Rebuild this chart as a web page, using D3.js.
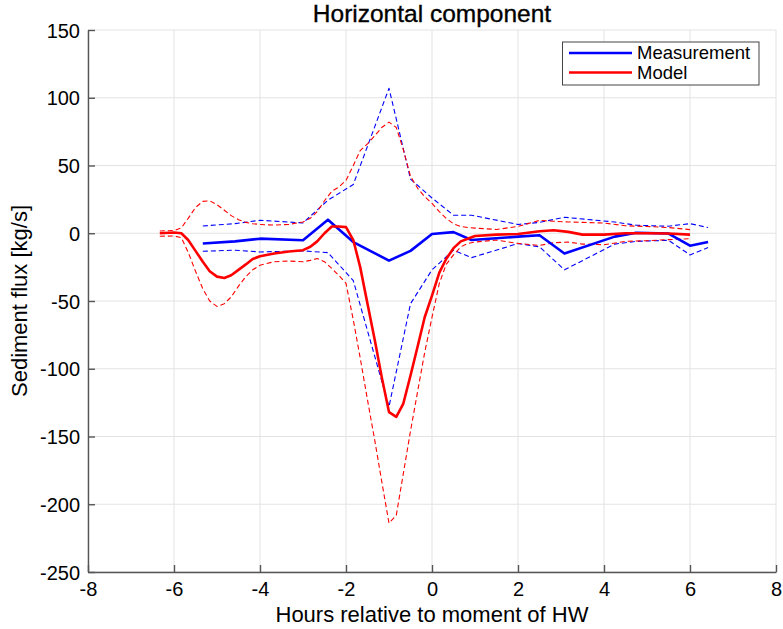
<!DOCTYPE html>
<html>
<head>
<meta charset="utf-8">
<script src="https://cdn.jsdelivr.net/npm/d3@7"></script>
<style>
  body { margin: 0; background: #fff; }
  svg { display: block; }
  text { font-family: "Liberation Sans", Arial, Helvetica, sans-serif; fill: #000; }
</style>
</head>
<body>
<svg id="chart" width="783" height="629"></svg>
<script>
// ---------------- data ----------------
const title = "Horizontal component";
const xLabel = "Hours relative to moment of HW";
const yLabel = "Sediment flux [kg/s]";
const xTicks = [-8, -6, -4, -2, 0, 2, 4, 6, 8];
const yTicks = [-250, -200, -150, -100, -50, 0, 50, 100, 150];
const seriesNames = ["Measurement", "Model"];

// measurement (hours)
const measTime  = [-5.33, -4.58, -4.0, -3.0, -2.42, -1.83, -1.0, -0.5, 0.0, 0.5, 0.92, 2.0, 2.5, 3.08, 4.25, 4.75, 5.5, 6.0, 6.42];
const measMean  = [-7.6, -6.0, -4.0, -5.2, 10.0, -6.5, -20.2, -13.0, -0.6, 0.8, -5.0, -2.5, -1.5, -15.0, -2.5, 0.4, -0.2, -9.2, -6.4];
const measUpper = [5.4, 7.1, 9.6, 7.6, 24.4, 36.0, 107.0, 40.0, 26.0, 13.3, 13.3, 6.5, 8.0, 11.8, 8.3, 5.9, 5.2, 7.1, 4.2];
const measLower = [-13.3, -12.5, -13.8, -13.0, -14.3, -35.0, -128.0, -52.0, -27.0, -12.5, -18.0, -7.6, -10.0, -27.0, -8.0, -6.0, -5.2, -16.0, -10.6];

// model (hours)
const modelTime  = [-6.33, -6.0, -5.83, -5.67, -5.5, -5.33, -5.17, -5.0, -4.83, -4.67, -4.5, -4.33, -4.17, -4.0, -3.67, -3.33, -3.0, -2.83, -2.67, -2.5, -2.33, -2.17, -2.0, -1.83, -1.67, -1.5, -1.33, -1.17, -1.0, -0.83, -0.67, -0.5, -0.33, -0.17, 0.0, 0.17, 0.33, 0.5, 0.67, 0.83, 1.0, 1.5, 2.0, 2.5, 2.83, 3.17, 3.5, 4.0, 4.5, 5.0, 5.5, 6.0];
const modelMean  = [0, 0.5, 0, -5, -13, -21, -28, -32, -33, -31, -27, -23, -19, -17, -15, -13.5, -12.5, -10, -6, 0, 5, 5, 4.5, -5, -25, -52, -79, -106, -132, -135.5, -126, -105, -83, -62, -46, -29, -19, -11, -6, -4, -2, -1, -0.5, 1.5, 2.2, 1, -1, -1, 0, 0, -0.2, -1];
const modelUpper = [1.7, 2, 4, 11, 19, 23.5, 24, 21, 17, 13, 10, 8, 7, 6.5, 6, 6.5, 8.3, 11, 16, 24, 31, 34, 39, 50, 61, 66, 72, 78, 82, 78, 62, 42, 33, 27, 22, 16, 11, 7, 5, 4.2, 3.8, 2.8, 5, 9.5, 8.8, 8.3, 8, 7.5, 5.5, 5, 4.2, 2.7];
const modelLower = [-2.2, -2, -3.2, -14, -28, -41, -50, -54, -52, -47, -39, -32, -27, -23.6, -21, -20.5, -21, -20, -18.7, -21, -26, -31, -37, -64, -92, -123, -153, -183, -214, -208, -178, -146, -116, -88, -62, -37, -23, -16, -10, -7.5, -6.5, -5, -7.5, -9, -7, -6.5, -8, -8.5, -6, -5.5, -4.7, -4];

// ---------------- drawing ----------------
const svg = d3.select("#chart");
const margin = { left: 88, right: 7, top: 30, bottom: 57 };
const W = 783, H = 629;
const x = d3.scaleLinear().domain([-8, 8]).range([margin.left, W - margin.right]);
const y = d3.scaleLinear().domain([-250, 150]).range([H - margin.bottom, margin.top]);

const blue = "#0000ff", red = "#ff0000";
const axisColor = "#555555", gridColor = "#e3e3e3";

// grid
const g = svg.append("g");
g.selectAll(".vg").data(xTicks).join("line")
  .attr("x1", d => x(d)).attr("x2", d => x(d))
  .attr("y1", y(-250)).attr("y2", y(150))
  .attr("stroke", gridColor).attr("stroke-width", 1);
g.selectAll(".hg").data(yTicks).join("line")
  .attr("x1", x(-8)).attr("x2", x(8))
  .attr("y1", d => y(d)).attr("y2", d => y(d))
  .attr("stroke", gridColor).attr("stroke-width", 1);

// lines
const lineGen = (tArr, vArr) => d3.line().x((d, i) => x(tArr[i])).y(d => y(d))(vArr);
const plot = svg.append("g");
function addLine(tArr, vArr, color, dashed) {
  plot.append("path")
    .attr("d", lineGen(tArr, vArr))
    .attr("fill", "none")
    .attr("stroke", color)
    .attr("stroke-width", dashed ? 1.1 : 2.6)
    .attr("stroke-dasharray", dashed ? "5,3" : null)
    .attr("stroke-linejoin", "round");
}
addLine(measTime, measUpper, blue, true);
addLine(measTime, measLower, blue, true);
addLine(modelTime, modelUpper, red, true);
addLine(modelTime, modelLower, red, true);
addLine(measTime, measMean, blue, false);
addLine(modelTime, modelMean, red, false);

// axes (left and bottom dark, inward ticks)
const fmt = d => String(d);
const yAxis = d3.axisLeft(y).tickValues(yTicks).tickFormat(fmt).tickSizeInner(-7).tickSizeOuter(0).tickPadding(8);
const xAxis = d3.axisBottom(x).tickValues(xTicks).tickFormat(fmt).tickSizeInner(-7).tickSizeOuter(0).tickPadding(10);
const ya = svg.append("g").attr("transform", `translate(${x(-8)},0)`).call(yAxis);
const xa = svg.append("g").attr("transform", `translate(0,${y(-250)})`).call(xAxis);
[ya, xa].forEach(a => {
  a.select(".domain").attr("stroke", axisColor).attr("stroke-width", 1.4);
  a.selectAll(".tick line").attr("stroke", axisColor).attr("stroke-width", 1.4);
  a.selectAll(".tick text").attr("font-size", 20).attr("fill", "#000")
    .attr("font-family", "'Liberation Sans', Arial, sans-serif");
});
ya.selectAll(".tick text").attr("dy", "0.35em");

// title & labels
svg.append("text").attr("x", (x(-8) + x(8)) / 2).attr("y", 22)
  .attr("text-anchor", "middle").attr("font-size", 24.5)
  .attr("stroke", "#000").attr("stroke-width", 0.35)
  .text(title);
svg.append("text").attr("x", (x(-8) + x(8)) / 2).attr("y", 622)
  .attr("text-anchor", "middle").attr("font-size", 22)
  .text(xLabel);
svg.append("text").attr("transform", `translate(27,${(y(-250) + y(150)) / 2}) rotate(-90)`)
  .attr("text-anchor", "middle").attr("font-size", 22)
  .text(yLabel);

// legend
const lg = svg.append("g");
lg.append("rect").attr("x", 562.5).attr("y", 42).attr("width", 196.5).attr("height", 43)
  .attr("fill", "#fff").attr("stroke", "#444").attr("stroke-width", 1);
const legendColors = [blue, red];
seriesNames.forEach((name, i) => {
  const ly = 53 + i * 19.5;
  lg.append("line").attr("x1", 569).attr("x2", 632).attr("y1", ly).attr("y2", ly)
    .attr("stroke", legendColors[i]).attr("stroke-width", 2.6);
  lg.append("text").attr("x", 637).attr("y", ly).attr("dy", "0.35em")
    .attr("font-size", 18.5).text(name);
});
</script>
</body>
</html>
